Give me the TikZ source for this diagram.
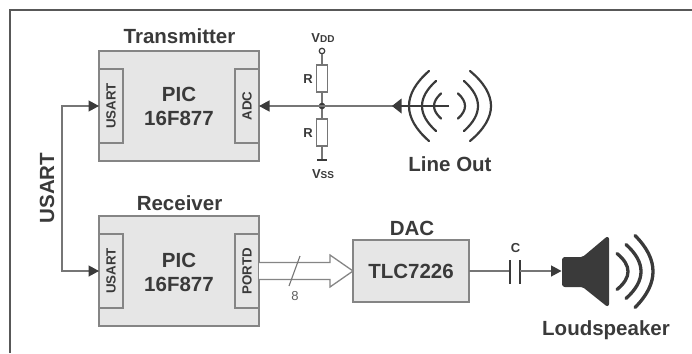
\documentclass[tikz,border=0pt]{standalone}
\usepackage{fontspec}
\setmainfont{Liberation Sans}
\usetikzlibrary{arrows.meta,calc}
\definecolor{ink}{HTML}{3A3A3A}
\definecolor{wire}{HTML}{767676}
\definecolor{edgec}{HTML}{858585}
\definecolor{boxf}{HTML}{E6E6E6}
\tikzset{
  x=1pt,y=-1pt,
  every node/.style={inner sep=0pt,outer sep=0pt,text=ink,font=\bfseries\fontsize{20.5}{24}\selectfont},
  chip/.style={draw=edgec,fill=boxf,line width=1.5pt,minimum width=160pt,minimum height=110pt},
  port/.style={draw=edgec,fill=boxf,line width=1.3pt,minimum width=24pt,minimum height=74pt,font=\bfseries\fontsize{13.3}{15}\selectfont},
  conv/.style={draw=edgec,fill=boxf,line width=1.5pt,minimum width=116pt,minimum height=62pt},
  res/.style={draw=wire,fill=white,line width=1.3pt,minimum width=11pt,minimum height=27pt},
  small/.style={font=\bfseries\fontsize{13}{15}\selectfont},
  wireline/.style={draw=wire,line width=1.3pt},
  tipped/.style={-{Triangle[length=10.5pt,width=11pt,color=ink]}},
  tippedboth/.style={{Triangle[length=10.5pt,width=11pt,color=ink]}-{Triangle[length=10.5pt,width=11pt,color=ink]}},
  wave/.style={draw=ink,line width=2.2pt,line cap=round},
  loudwave/.style={draw=ink,line width=3.3pt,line cap=round},
  plate/.style={draw=ink,line width=2.2pt}
}
\newcommand{\arcwave}[5]{\draw[#1] (#2,{#5-#4}) .. controls ({#2+(#3-#2)*4/3},{#5-#4/3}) and ({#2+(#3-#2)*4/3},{#5+#4/3}) .. (#2,{#5+#4});}
\begin{document}
\begin{tikzpicture}
\useasboundingbox (0,0) rectangle (692,353);
% frame
\coordinate (fa) at (10,353);
\coordinate (fb) at (10,10);
\coordinate (fc) at (692,10);
\draw[draw=ink!85!white,line width=2pt] (fa) -- (fb) -- (fc);

% transmitter
\node[chip] (tx) at (179,106) {};
\node[port,anchor=west] (u1) at (tx.west) {\rotatebox{90}{USART}};
\node[port,anchor=east] (adc) at (tx.east) {\rotatebox{90}{ADC}};
\node (txa) at (179,94) {PIC};
\node (txb) at (179,118) {16F877};
\node (txt) at (179.5,36) {Transmitter};

% receiver
\node[chip] (rx) at (179,271) {};
\node[port,anchor=west] (u2) at (rx.west) {\rotatebox{90}{USART}};
\node[port,anchor=east] (pd) at (rx.east) {\rotatebox{90}{PORTD}};
\node (rxa) at (179,260) {PIC};
\node (rxb) at (179,284) {16F877};
\node (rxt) at (179.5,203) {Receiver};

% USART link
\coordinate (ua) at (62,106);
\coordinate (ub) at (62,271);
\draw[wireline,tippedboth] (u1.west) -- (ua) -- (ub) -- (u2.west);
\node[rotate=90] (ul) at (47,188) {USART};

% divider
\coordinate (jn) at (322,106);
\node[res] (r1) at (322,78.5) {};
\node[res] (r2) at (322,132.5) {};
\node[circle,draw=ink,fill=white,line width=1.2pt,minimum size=5.5pt] (vd) at (322,51) {};
\coordinate (gnd) at (322,160);
\draw[wireline] (vd) -- (r1);
\draw[wireline] (r1) -- (jn) -- (r2);
\draw[wireline] (r2) -- (gnd);
\draw[draw=ink,line width=1.3pt] (317,160) -- (327,160);
\fill[ink] (jn) circle (3.3pt);
\node[small] (rl1) at (308,79) {R};
\node[small] (rl2) at (308,133) {R};
\node (vdd) at (323,38) {\bfseries\fontsize{13}{15}\selectfont V\fontsize{10}{12}\selectfont DD};
\node (vss) at (323,174) {\bfseries\fontsize{13}{15}\selectfont V\fontsize{10}{12}\selectfont SS};

% line out symbol
\coordinate (ls) at (449,106);
\coordinate (lh) at (401,106);
\draw[wireline,tipped] (jn) -- (adc.east);
\draw[wireline] (lh) -- (jn);
\draw[draw=ink,line width=2.2pt] (ls) -- (lh);
\fill[ink] (392,106) -- (401.5,98.5) -- (401.5,113.5) -- cycle;
\arcwave{wave}{429}{409}{35}{106}
\arcwave{wave}{436}{422}{25}{106}
\arcwave{wave}{441}{434}{12.5}{106}
\arcwave{wave}{458}{465}{12.5}{106}
\arcwave{wave}{464}{478}{25}{106}
\arcwave{wave}{470}{491}{35}{106}
\node (lo) at (450,164) {Line Out};

% DAC
\node[conv] (dac) at (411,271) {TLC7226};
\node (dl) at (412,228) {DAC};

% bus arrow
\fill[white,draw=edgec,line width=1.3pt,line join=miter]
  ($(pd.east)+(0,-8.5)$) -- (330,262.5) -- (330,255) -- (dac.west) -- (330,287) -- (330,279.5) -- ($(pd.east)+(0,8.5)$);
\coordinate (sa) at (289,286);
\coordinate (sb) at (300,256);
\draw[draw=wire,line width=1.1pt] (sa) -- (sb);
\node[font=\fontsize{13}{15}\selectfont,text=wire!80!black] (eight) at (295,296) {8};

% capacitor
\coordinate (ca) at (510,271);
\coordinate (cb) at (520,271);
\draw[wireline] (dac.east) -- (ca);
\draw[plate] (510,260) -- (510,284);
\draw[plate] (520,260) -- (520,284);
\node[small] (cl) at (515.5,248) {C};

% loudspeaker
\coordinate (sp) at (561.5,271);
\draw[wireline,tipped] (cb) -- (sp);
\fill[ink,draw=ink,line width=2pt,line join=round,rounded corners=2pt]
  (563,258) -- (583,258) -- (608,237) -- (608,306) -- (583,286) -- (563,286) -- cycle;
\arcwave{loudwave}{617}{628}{18}{271.5}
\arcwave{loudwave}{626}{641}{27}{271.5}
\arcwave{loudwave}{635}{653}{36}{271.5}
\node (sl) at (606,330) {Loudspeaker};
\end{tikzpicture}
\end{document}
